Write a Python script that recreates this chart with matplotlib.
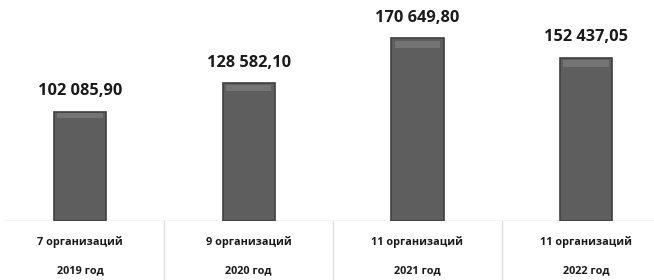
import matplotlib
matplotlib.use("Agg")
import matplotlib.pyplot as plt
import matplotlib.transforms as mtransforms

plt.rcParams['font.family'] = ['Open Sans', 'DejaVu Sans']

years = ["2019 год", "2020 год", "2021 год", "2022 год"]
orgs = ["7 организаций", "9 организаций", "11 организаций", "11 организаций"]
values = [102085.90, 128582.10, 170649.80, 152437.05]
value_labels = ["102 085,90", "128 582,10", "170 649,80", "152 437,05"]

fig = plt.figure(figsize=(6.54, 2.8), dpi=100)
ax = fig.add_axes([0, 0.21, 1, 0.79])
x = list(range(len(values)))

ax.bar(x, values, width=0.31, color="#5e5e5e", edgecolor="#404040", linewidth=1.2, zorder=2)
# soft bevel highlight near the top of each bar
top_band = [v * 0.04 for v in values]
ax.bar(x, top_band, bottom=[v - t * 1.4 for v, t in zip(values, top_band)], width=0.27,
       color="#747474", linewidth=0, zorder=3)

ax.set_xlim(-0.474, 3.402)
ax.set_ylim(0, 206100)
ax.axis("off")

for xi, v, lab in zip(x, values, value_labels):
    ax.annotate(lab, (xi, v), xytext=(0, 9), textcoords="offset points",
                ha="center", va="bottom", fontsize=11.8, fontweight="bold", color="#1a1a1a")

# baseline
ax.axhline(0, xmin=0.008, xmax=1, color="#d4d4d4", linewidth=1, zorder=1)

trans = mtransforms.blended_transform_factory(ax.transData, fig.transFigure)
for i in range(len(values) - 1):
    ax.plot([i + 0.5, i + 0.5], [0, 0.21], transform=trans, color="#e0e0e0",
            linewidth=1, clip_on=False)

for xi, o, y in zip(x, orgs, years):
    ax.text(xi, 1 - 242 / 280, o, transform=trans, ha="center", va="center",
            fontsize=7.8, fontweight="bold", color="#1a1a1a")
    ax.text(xi, 1 - 271 / 280, y, transform=trans, ha="center", va="center",
            fontsize=7.8, fontweight="bold", color="#1a1a1a")

fig.savefig("out.png", dpi=100, facecolor="white")
